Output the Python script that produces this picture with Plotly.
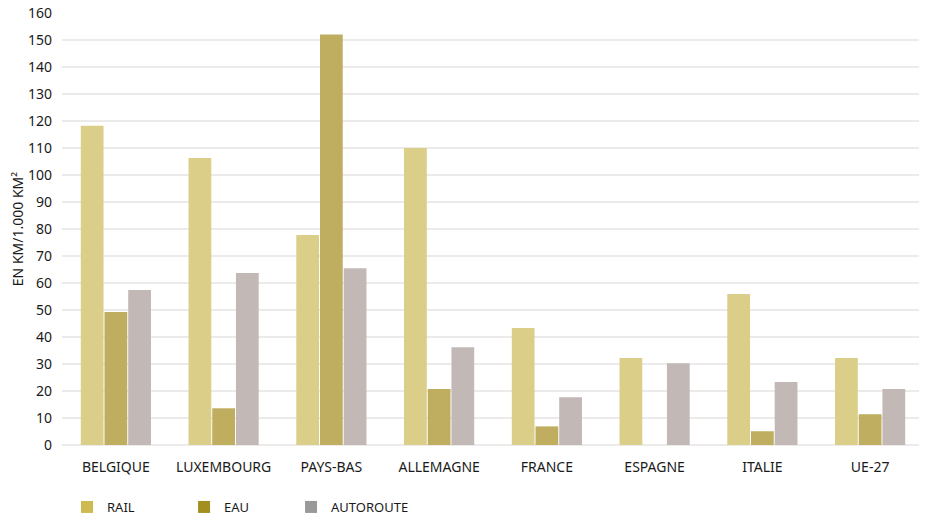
import plotly.graph_objects as go

categories = ["BELGIQUE", "LUXEMBOURG", "PAYS-BAS", "ALLEMAGNE", "FRANCE", "ESPAGNE", "ITALIE", "UE-27"]
rail = [118.2, 106.3, 77.8, 110.0, 43.3, 32.2, 55.9, 32.2]
eau = [49.3, 13.6, 152.0, 20.7, 6.9, None, 5.1, 11.4]
autoroute = [57.4, 63.7, 65.5, 36.2, 17.7, 30.3, 23.3, 20.7]
series_names = ["RAIL", "EAU", "AUTOROUTE"]
y_ticks = list(range(0, 161, 10))

bar_colors = ["#DBCE88", "#BFAE60", "#C2B8B5"]
legend_colors = ["#CDBA50", "#A38F20", "#999999"]
legend_ids = ["legend", "legend2", "legend3"]
legend_x = [0.0058, 0.1416, 0.2657]
font_family = "Noto Sans, Open Sans, sans-serif"

fig = go.Figure()
for name, vals, col in zip(series_names, [rail, eau, autoroute], bar_colors):
    fig.add_trace(go.Bar(x=categories, y=vals, name=name, marker=dict(color=col, line=dict(width=0)),
                         showlegend=False))
for name, col, lg in zip(series_names, legend_colors, legend_ids):
    fig.add_trace(go.Scatter(x=[None], y=[None], name=name, mode="markers", legend=lg,
                             marker=dict(color=col, symbol="square", size=12), showlegend=True))

legend_style = dict(orientation="h", xanchor="left", y=0.0216, yanchor="middle", yref="container",
                    font=dict(size=13, color="#1a1a1a"), itemwidth=30,
                    bgcolor="rgba(0,0,0,0)", borderwidth=0)

fig.update_layout(
    width=919, height=510,
    margin=dict(l=54, r=3, t=5, b=73, autoexpand=False),
    paper_bgcolor="white", plot_bgcolor="white",
    barmode="group", bargap=0.34, bargroupgap=0.04,
    font=dict(family=font_family, size=14, color="#1a1a1a"),
    showlegend=True,
    legend=dict(x=legend_x[0], **legend_style),
    legend2=dict(x=legend_x[1], **legend_style),
    legend3=dict(x=legend_x[2], **legend_style),
)
fig.update_xaxes(automargin=False, showgrid=False, showline=False, ticks="", tickfont=dict(size=14),
                 ticklabelstandoff=12)
fig.update_yaxes(automargin=False, range=[0, 160], tickvals=y_ticks, showgrid=True, gridcolor="#EDEAEA",
                 gridwidth=2, zeroline=True, zerolinecolor="#EDEAEA", zerolinewidth=2,
                 ticks="", tickfont=dict(size=14), ticklabelstandoff=9, ticklabeloverflow="allow",
                 title=dict(text="EN KM/1.000 KM²", font=dict(size=14), standoff=12))

fig.write_html("out.html")
